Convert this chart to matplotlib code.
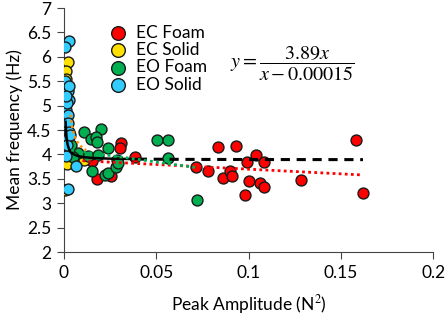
import numpy as np
import matplotlib.pyplot as plt

plt.rcParams['font.family'] = ['Lato', 'DejaVu Sans']
plt.rcParams['mathtext.fontset'] = 'stix'

# EC Foam (red)
ec_foam_x = [0.0833, 0.0932, 0.0717, 0.0782, 0.0862, 0.0901, 0.0912, 0.0992, 0.1042,
             0.1082, 0.1001, 0.0983, 0.1061, 0.1084, 0.1283, 0.1583, 0.1622,
             0.0311, 0.0302, 0.0385, 0.0180, 0.0253, 0.0150, 0.0035]
ec_foam_y = [4.16, 4.17, 3.74, 3.66, 3.51, 3.67, 3.56, 3.84, 3.98,
             3.85, 3.45, 3.17, 3.41, 3.34, 3.48, 4.30, 3.21,
             4.24, 4.14, 3.94, 3.50, 3.55, 3.87, 3.85]

# EC Solid (yellow)
ec_solid_x = [0.0020, 0.0011, 0.0008, 0.0005, 0.0003, 0.0006, 0.0015, 0.0015,
              0.0110, 0.0008, 0.0005, 0.0010, 0.0004]
ec_solid_y = [5.89, 5.72, 5.35, 5.10, 4.85, 4.42, 4.25, 3.80,
              3.88, 3.27, 4.65, 5.55, 4.00]

# EO Foam (green)
eo_foam_x = [0.0108, 0.0199, 0.0145, 0.0175, 0.0180, 0.0240, 0.0128, 0.0183, 0.0287,
             0.0153, 0.0222, 0.0240, 0.0282, 0.0294, 0.0078, 0.0502, 0.0562, 0.0562,
             0.0721, 0.0030, 0.0050, 0.0040]
eo_foam_y = [4.46, 4.52, 4.31, 4.36, 4.26, 4.14, 3.97, 3.99, 3.885,
             3.67, 3.57, 3.62, 3.74, 3.82, 4.02, 4.30, 4.30, 3.92,
             3.07, 4.05, 3.95, 4.20]

# EO Solid (cyan)
eo_solid_x = [0.0027, 0.0008, 0.0005, 0.0022, 0.0025, 0.0012, 0.0022, 0.0012, 0.0009,
              0.0011, 0.0009, 0.0065, 0.0022, 0.0015, 0.0020, 0.0030, 0.0018, 0.0035,
              0.0028, 0.0010]
eo_solid_y = [6.32, 6.20, 5.50, 5.31, 5.12, 4.92, 4.80, 4.56, 4.30,
              4.09, 3.96, 3.77, 3.29, 5.05, 4.65, 4.45, 4.20, 4.40,
              5.40, 5.20]

# trendline parameters
fit_a, fit_c = 3.89, 0.00015          # black: y = a x / (x - c)
red_fit = (3.89, -1.92)                 # red dotted, linear
green_fit = (4.11, -5.29)               # green dotted, linear
orange_a, orange_c = 3.85, 0.0007       # orange dotted near origin

fig = plt.figure(figsize=(4.47, 3.16), dpi=100)
ax = fig.add_axes([0.143, 0.2025, 0.826, 0.772])

ms = 62
ax.scatter(ec_foam_x, ec_foam_y, s=ms, c='#FF0000', edgecolors='#1a1a1a', linewidths=1.0, label='EC Foam', zorder=3)
ax.scatter(ec_solid_x, ec_solid_y, s=ms, c='#FFE000', edgecolors='#1a1a1a', linewidths=1.0, label='EC Solid', zorder=3)
ax.scatter(eo_foam_x, eo_foam_y, s=ms, c='#00B050', edgecolors='#1a1a1a', linewidths=1.0, label='EO Foam', zorder=3)
ax.scatter(eo_solid_x, eo_solid_y, s=ms, c='#33CCFF', edgecolors='#1a1a1a', linewidths=1.0, label='EO Solid', zorder=3)

# trendlines
xs = np.linspace(0.0009, 0.04, 300)
ax.plot(xs, fit_a * xs / (xs - fit_c), color='black', lw=1.8, zorder=4)
xd = np.linspace(0.04, 0.162, 100)
ax.plot(xd, fit_a * xd / (xd - fit_c), color='black', lw=2.2, ls=(0, (3, 2.2)), zorder=4)

xr = np.linspace(0.01, 0.162, 100)
ax.plot(xr, red_fit[0] + red_fit[1] * xr, color='#FF0000', lw=2, ls=(0, (1, 1.2)), zorder=4)
xg = np.linspace(0.004, 0.072, 100)
ax.plot(xg, green_fit[0] + green_fit[1] * xg, color='#00B050', lw=2, ls=(0, (1, 1.2)), zorder=4)
xo = np.linspace(0.0035, 0.012, 100)
ax.plot(xo, orange_a * xo / (xo - orange_c), color='#FF8C00', lw=1.8, ls=(0, (1, 1.2)), zorder=4)

ax.set_xlim(0, 0.2)
ax.set_ylim(2, 7)
ax.set_xticks([0, 0.05, 0.1, 0.15, 0.2])
ax.set_xticklabels(['0', '0.05', '0.1', '0.15', '0.2'])
ax.set_yticks(np.arange(2, 7.01, 0.5))
ax.set_yticklabels(['2', '2.5', '3', '3.5', '4', '4.5', '5', '5.5', '6', '6.5', '7'])
for s in ['top', 'right']:
    ax.spines[s].set_visible(False)
for s in ['left', 'bottom']:
    ax.spines[s].set_color('#444444')
ax.tick_params(direction='out', length=5, color='#444444', labelsize=12.5, pad=4)

ax.set_xlabel('Peak Amplitude (N$^2$)', fontsize=12.5, labelpad=9)
ax.set_ylabel('Mean frequency (Hz)', fontsize=12.5, labelpad=3)

ax.legend(loc='upper left', bbox_to_anchor=(0.07, 0.975), frameon=False, fontsize=12.5,
          markerscale=1.25, handletextpad=0.05, labelspacing=0.08, borderaxespad=0.2)

ax.text(0.62, 0.77, r'$y = \dfrac{3.89x}{x - 0.00015}$', transform=ax.transAxes,
        fontsize=14.5, ha='center', va='center')

fig.savefig('out.png', dpi=100)
